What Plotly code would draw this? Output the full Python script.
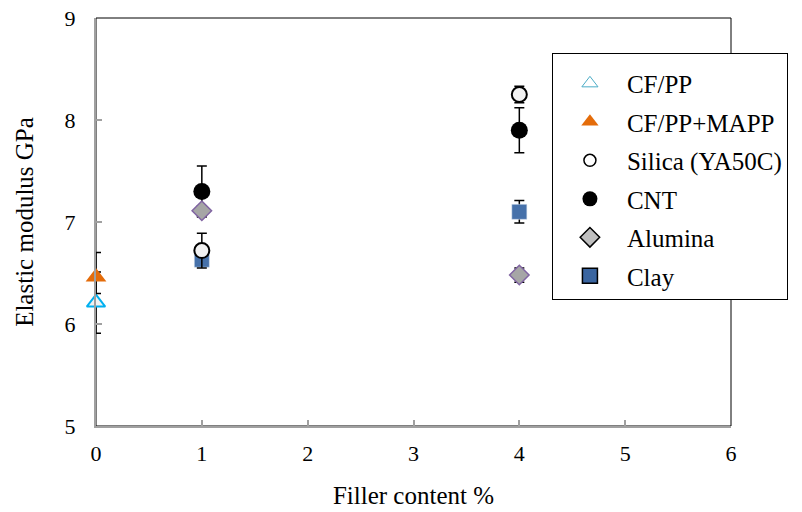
import plotly.graph_objects as go

# ---- data ----
series_names = ["CF/PP", "CF/PP+MAPP", "Silica (YA50C)", "CNT", "Alumina", "Clay"]

cfpp_x = [0]
cfpp_y = [6.21]
cfpp_err_plus = [0.30]
cfpp_err_minus = [0.30]

mapp_x = [0]
mapp_y = [6.46]
mapp_err_plus = [0.24]
mapp_err_minus = [0.16]

silica_x = [1, 4]
silica_y = [6.72, 8.25]
silica_err_plus = [0.17, 0.08]
silica_err_minus = [0.17, 0.08]

cnt_x = [1, 4]
cnt_y = [7.30, 7.90]
cnt_err_plus = [0.25, 0.22]
cnt_err_minus = [0.25, 0.22]

alumina_x = [1, 4]
alumina_y = [7.11, 6.48]
alumina_err_plus = [0.05, 0.07]
alumina_err_minus = [0.05, 0.07]

clay_x = [1, 4]
clay_y = [6.63, 7.10]
clay_err_plus = [0.10, 0.11]
clay_err_minus = [0.05, 0.11]

x_ticks = [0, 1, 2, 3, 4, 5, 6]
y_ticks = [5, 6, 7, 8, 9]

FONT = "Times New Roman"


def err(plus, minus):
    return dict(type="data", symmetric=False, array=plus, arrayminus=minus,
                color="black", thickness=1.5, width=5)


fig = go.Figure()

# data traces (draw order chosen to match overlaps)
fig.add_trace(go.Scatter(x=cfpp_x, y=cfpp_y, mode="markers", showlegend=False, cliponaxis=False,
                         error_y=err(cfpp_err_plus, cfpp_err_minus),
                         marker=dict(symbol="triangle-up", size=16, color="#F2F2F2",
                                     line=dict(color="#00B0F0", width=2))))
fig.add_trace(go.Scatter(x=mapp_x, y=mapp_y, mode="markers", showlegend=False, cliponaxis=False,
                         error_y=err(mapp_err_plus, mapp_err_minus),
                         marker=dict(symbol="triangle-up", size=18, color="#E46C0A",
                                     line=dict(width=0))))
fig.add_trace(go.Scatter(x=clay_x, y=clay_y, mode="markers", showlegend=False, cliponaxis=False,
                         error_y=err(clay_err_plus, clay_err_minus),
                         marker=dict(symbol="square", size=15, color="#4671AA",
                                     line=dict(color="#D9E2EF", width=0.5))))
fig.add_trace(go.Scatter(x=silica_x, y=silica_y, mode="markers", showlegend=False, cliponaxis=False,
                         error_y=err(silica_err_plus, silica_err_minus),
                         marker=dict(symbol="circle", size=15, color="#F2F2F2",
                                     line=dict(color="black", width=2))))
fig.add_trace(go.Scatter(x=cnt_x, y=cnt_y, mode="markers", showlegend=False, cliponaxis=False,
                         error_y=err(cnt_err_plus, cnt_err_minus),
                         marker=dict(symbol="circle", size=17, color="black",
                                     line=dict(width=0))))
fig.add_trace(go.Scatter(x=alumina_x, y=alumina_y, mode="markers", showlegend=False, cliponaxis=False,
                         error_y=err(alumina_err_plus, alumina_err_minus),
                         marker=dict(symbol="diamond", size=15, color="#A6A6A6",
                                     line=dict(color="#8064A2", width=1.5))))

# legend-only traces (legend markers styled as in the reference legend)
legend_styles = [
    dict(symbol="triangle-up", size=14, color="white", line=dict(color="#4BACC6", width=1)),
    dict(symbol="triangle-up", size=15, color="#E46C0A", line=dict(width=0)),
    dict(symbol="circle", size=12, color="white", line=dict(color="black", width=1.5)),
    dict(symbol="circle", size=15, color="black", line=dict(width=0)),
    dict(symbol="diamond", size=15, color="#BFBFBF", line=dict(color="black", width=1.5)),
    dict(symbol="square", size=15, color="#3A65A0", line=dict(color="black", width=1.5)),
]
for i, (name, st) in enumerate(zip(series_names, legend_styles)):
    fig.add_trace(go.Scatter(x=[None], y=[None], mode="markers", name=name,
                             marker=st, legendgroup=f"g{i}"))

axis_gray = "#A0A0A0"
tickfont = dict(family=FONT, size=22, color="black")
fig.update_layout(
    width=802, height=512,
    margin=dict(l=88, r=79, t=10, b=94, autoexpand=False),
    paper_bgcolor="white", plot_bgcolor="white",
    font=dict(family=FONT, size=22, color="black"),
    showlegend=True,
    legend=dict(x=0.718, y=0.914, xanchor="left", yanchor="top",
                bordercolor="black", borderwidth=1, bgcolor="white",
                font=dict(family=FONT, size=25, color="black"),
                title=dict(text=" ", font=dict(family=FONT, size=5)),
                tracegroupgap=3, itemwidth=64,
                indentation=0),
    xaxis=dict(range=[0, 6], tickvals=x_ticks, ticktext=[str(v) for v in x_ticks],
               showgrid=False, zeroline=False, showline=True, linecolor=axis_gray,
               linewidth=2, ticks="inside", ticklen=6, tickcolor=axis_gray, tickwidth=1.5,
               ticklabelstandoff=7, automargin=False, tickfont=tickfont,
               ticklabeloverflow="allow",
               title=dict(text="Filler content %", standoff=21,
                          font=dict(family=FONT, size=25))),
    yaxis=dict(range=[5, 9], tickvals=y_ticks, ticktext=[str(v) for v in y_ticks],
               showgrid=False, zeroline=False, showline=True, linecolor=axis_gray,
               linewidth=2, ticks="inside", ticklen=6, tickcolor=axis_gray, tickwidth=1.5,
               ticklabelstandoff=14, automargin=False, tickfont=tickfont,
               ticklabeloverflow="allow",
               title=dict(text="Elastic modulus GPa", standoff=24,
                          font=dict(family=FONT, size=25))),
    shapes=[dict(type="rect", xref="paper", yref="paper", x0=0, x1=1, y0=0, y1=1,
                 line=dict(color="black", width=1), layer="below")],
)

fig.write_html("out.html")
